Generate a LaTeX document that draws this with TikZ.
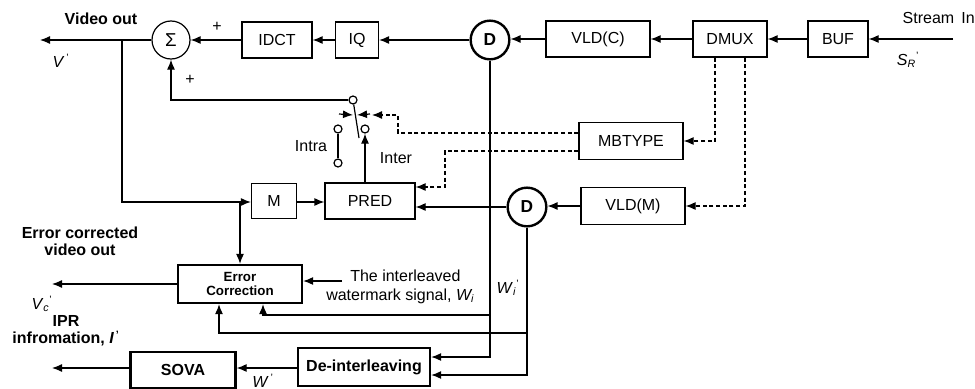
\documentclass[tikz,border=0pt]{standalone}
\usepackage{fontspec}
\setmainfont{Liberation Sans}
\usetikzlibrary{arrows.meta}
\newcommand{\ssv}[3]{\textit{#1}\textsubscript{\textit{#2}}\textsuperscript{#3}}
\begin{document}
\begin{tikzpicture}[x=0.75pt,y=-0.75pt,
  sz/.style 2 args={minimum width=#1*0.75pt, minimum height=#2*0.75pt},
  box/.style={draw,line width=0.9pt,inner sep=0pt,font=\fontsize{12}{14}\selectfont},
  tbox/.style={draw,line width=1.7pt,inner sep=0pt,font=\bfseries\fontsize{12}{14}\selectfont},
  dnode/.style={draw,circle,line width=1.8pt,minimum size=29pt,inner sep=0pt,font=\bfseries\fontsize{13}{14}\selectfont},
  arr/.style={line width=0.9pt,-{Latex[length=7.5pt,width=6pt]}},
  darr/.style={arr,dash pattern=on 3pt off 2pt},
  dline/.style={line width=0.9pt,dash pattern=on 3pt off 2pt},
  lbl/.style={font=\fontsize{12}{14}\selectfont, inner sep=0pt},
  blbl/.style={font=\bfseries\fontsize{12}{13}\selectfont, inner sep=0pt, align=center},
  contact/.style={draw,circle,line width=0.9pt,minimum size=6pt,inner sep=0pt},
  plain/.style={line width=0.9pt}
]
\useasboundingbox (0,0) rectangle (975,389);

% main row
\node[draw,circle,line width=0.9pt,minimum size=28.5pt,inner sep=0pt,font=\fontsize{14}{14}\selectfont] (sigma) at (171,40) {Σ};
\node[box,sz={70}{36}] (idct) at (277,40) {IDCT};
\node[box,sz={43}{36}] (iq) at (357,40) {IQ};
\node[dnode] (d1) at (490,40) {D};
\node[box,sz={104}{36}] (vldc) at (598,39) {VLD(C)};
\node[box,sz={74}{36}] (dmux) at (730,39) {DMUX};
\node[box,sz={60}{36}] (buf) at (838,39) {BUF};
\coordinate (sin) at (953,39);
\coordinate (vout) at (40,40);

% middle
\node[box,sz={104}{37}] (mbtype) at (631,141) {MBTYPE};
\node[box,sz={104}{37}] (vldm) at (633,206) {VLD(M)};
\node[dnode] (d2) at (527,207) {D};
\node[box,sz={90}{36}] (pred) at (370,201) {PRED};
\node[box,sz={45}{35}] (m) at (274,201) {M};

% bottom
\node[tbox,sz={124}{38},align=center,font=\bfseries\fontsize{10}{11}\selectfont] (ec) at (240,284) {Error\\Correction};
\node[tbox,sz={132}{38}] (deint) at (364,367) {De-interleaving};
\node[tbox,sz={105}{36}] (sova) at (183,370) {SOVA};
\coordinate (vcout) at (52,284);
\coordinate (iprout) at (52,368);

% switch
\node[contact] (piv) at (353,100) {};
\node[contact] (ia) at (338,129) {};
\node[contact] (ib) at (338,163) {};
\node[contact] (ie) at (365,129) {};
\coordinate (bladeEnd) at (359,138);
\draw[plain] (ia) -- (ib);
\draw[plain] (piv) -- (bladeEnd);
\draw[arr] (339,114) -- (353,115);
\draw[arr] (370,114) -- (357,115);

% labels
\node[blbl] (tvo) at (101,19) {Video out};
\node[lbl] (tv) at (61,61) {\textit{V}\textsuperscript{\,'}};
\node[lbl] (tp1) at (217,27) {+};
\node[lbl] (tp2) at (190,80) {+};
\node[lbl,anchor=east] (tsi) at (975,18) {Stream\, In};
\node[lbl] (tsr) at (908,60) {\ssv{S}{R}{'}};
\node[lbl] (tintra) at (311,146) {Intra};
\node[lbl] (tinter) at (396,158) {Inter};
\node[blbl] (tecv) at (80,241) {Error corrected\\video out};
\node[lbl] (tvc) at (42,304) {\ssv{V}{c}{'}};
\node[lbl,align=left,anchor=west] (twm) at (326,287) {\hspace{18pt}The interleaved\\watermark signal, \textit{W\textsubscript{i}}};
\node[lbl] (twi) at (508,288) {\ssv{W}{i}{'}};
\node[blbl] (tipr) at (66,331) {IPR\\infromation, \textit{I}\textsuperscript{\,'}};
\node[lbl] (tw) at (263,381) {\textit{W}\textsuperscript{\,'}};

% main row connectors
\draw[arr] (sin) -- (buf);
\draw[arr] (buf) -- (dmux);
\draw[arr] (dmux) -- (vldc);
\draw[arr] (vldc.west) -- (d1.east |- vldc.west);
\draw[arr] (d1) -- (iq);
\draw[arr] (iq) -- (idct);
\draw[arr] (idct) -- (sigma);
\draw[arr] (sigma) -- (vout);
\draw[arr] (piv.west) -| (sigma.south);

% feed to M
\coordinate (tap) at (122,40);
\coordinate (br) at (240,202);
\draw[arr] (tap) |- (m.west |- br);
\draw[arr] (br) -- (ec.north);
\draw[arr] (m.east |- br) -- (pred.west |- br);
\draw[arr] (ie |- pred.north) -- (ie.south);

% D2 row
\draw[arr] (vldm.west) -- (d2.east |- vldm.west);
\draw[arr] (d2) -- (pred.east |- d2);

% verticals down to deinterleaving
\coordinate (c1) at (490,357);
\coordinate (c2) at (527,375);
\draw[arr] (d1.south) -- (c1) -- (deint.east |- c1);
\draw[arr] (d2.south) -- (c2) -- (deint.east |- c2);
\draw[arr] (490,315) -| (263,0 |- ec.south);
\draw[arr] (527,333) -| (219,0 |- ec.south);

% dashed control lines
\draw[darr] (715,0 |- dmux.south) |- (mbtype.east);
\draw[darr] (745,0 |- dmux.south) |- (vldm.east);
\draw[darr] (mbtype.west |- 0,133) -- (398,133) -- (398,115) -- (372,115);
\draw[darr] (mbtype.west |- 0,151) -- (445,151) -- (445,187) -- (pred.east |- 0,187);

% bottom connectors
\draw[arr] (342,281) -- (ec.east |- 0,281);
\draw[arr] (ec.west) -- (vcout);
\draw[arr] (deint.west |- 0,368) -- (sova.east |- 0,368);
\draw[arr] (sova.west |- 0,368) -- (iprout);
\end{tikzpicture}
\end{document}
